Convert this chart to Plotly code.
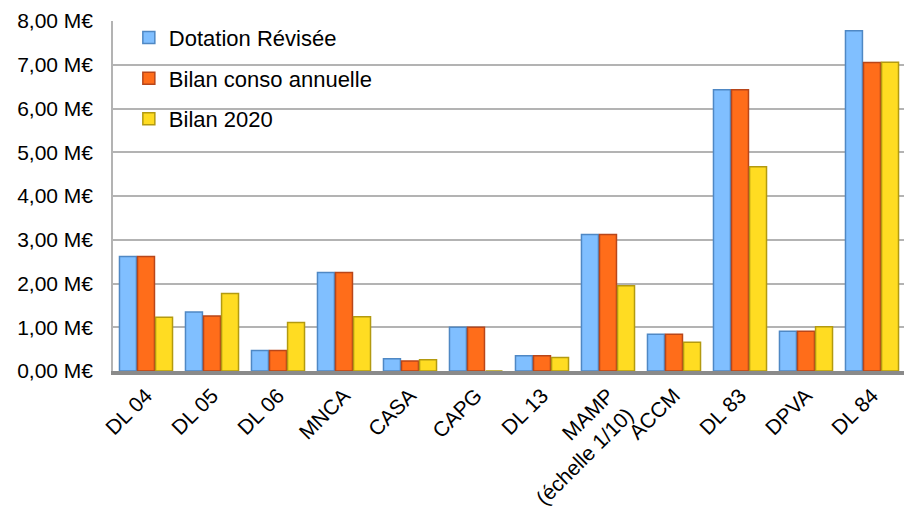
import plotly.graph_objects as go

categories = ["DL 04", "DL 05", "DL 06", "MNCA", "CASA", "CAPG", "DL 13",
              "MAMP<br>(échelle 1/10)", "ACCM", "DL 83", "DPVA", "DL 84"]
dotation_revisee = [2.62, 1.35, 0.47, 2.25, 0.28, 1.00, 0.35, 3.12, 0.84, 6.43, 0.91, 7.78]
bilan_conso_annuelle = [2.62, 1.26, 0.47, 2.25, 0.23, 1.00, 0.35, 3.12, 0.84, 6.43, 0.91, 7.05]
bilan_2020 = [1.23, 1.77, 1.11, 1.24, 0.26, 0.00, 0.31, 1.95, 0.66, 4.67, 1.01, 7.06]
series_names = ["Dotation Révisée", "Bilan conso annuelle", "Bilan 2020"]
y_ticks = [0, 1, 2, 3, 4, 5, 6, 7, 8]
y_ticktext = [f"{v:.2f}".replace(".", ",") + " M€" for v in y_ticks]

fills = ["#80bfff", "#ff6d1a", "#ffdc22"]
edges = ["#4f88c4", "#b8461a", "#b39a10"]

fig = go.Figure()
for i, (name, vals) in enumerate(zip(series_names, [dotation_revisee, bilan_conso_annuelle, bilan_2020])):
    fig.add_trace(go.Bar(
        x=categories, y=vals, name=name, legendgroup=name,
        marker=dict(color=fills[i], line=dict(color=edges[i], width=1.5)),
    ))

fig.update_layout(
    width=904, height=505,
    margin=dict(l=105, r=7, t=13, b=142),
    paper_bgcolor="white", plot_bgcolor="white",
    barmode="group", bargap=0.18, bargroupgap=0.06,
    font=dict(family="Liberation Sans, Arial, sans-serif", size=21, color="#000000"),
    showlegend=True,
    legend=dict(x=0.02, y=1.012, xanchor="left", yanchor="top",
                bgcolor="rgba(0,0,0,0)", font=dict(size=22),
                traceorder="grouped", tracegroupgap=9),
    xaxis=dict(tickangle=-45, showline=True, linecolor="#8a8a8a", linewidth=4,
               showgrid=False, ticks="", tickfont=dict(size=21), automargin=False,
               ticklabeloverflow="allow"),
    yaxis=dict(range=[0, 8], tickvals=y_ticks, ticktext=y_ticktext,
               showgrid=True, gridcolor="#b3b3b3", gridwidth=1.5,
               showline=True, linecolor="#b3b3b3", linewidth=1.5,
               zeroline=False, ticks="", ticklabelstandoff=14,
               tickfont=dict(size=21), automargin=False,
               ticklabeloverflow="allow"),
)

fig.write_html("out.html")
